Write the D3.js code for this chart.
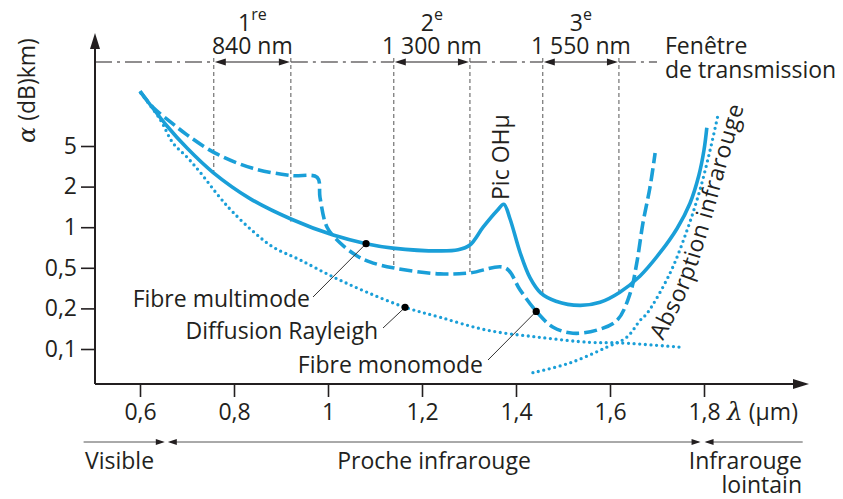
<!DOCTYPE html>
<html><head><meta charset="utf-8">
<script src="https://cdn.jsdelivr.net/npm/d3@7"></script>
<style>
body{margin:0;background:#fff;}
svg{display:block;}
</style></head>
<body><svg id="chart" width="843" height="499"></svg>
<script>
// ---------- DATA ----------
const xTicks = [0.6, 0.8, 1, 1.2, 1.4, 1.6, 1.8];
const yTicks = [0.1, 0.2, 0.5, 1, 2, 5];
// [lambda (µm), alpha (dB/km)]
const multimode = [[0.600,17.2],[0.657,7.9],[0.700,4.77],[0.755,2.76],[0.834,1.63],[0.921,1.15],[1.011,0.874],[1.081,0.755],[1.138,0.70],[1.238,0.667],[1.277,0.68],[1.302,0.738],[1.330,1.0],[1.360,1.33],[1.374,1.48],[1.387,1.16],[1.409,0.644],[1.430,0.398],[1.453,0.282],[1.485,0.235],[1.536,0.214],[1.579,0.2296],[1.621,0.288],[1.664,0.416],[1.706,0.644],[1.743,0.983],[1.770,1.50],[1.789,2.57],[1.800,4.56],[1.806,7.55]];
const monomode = [[0.600,17.2],[0.628,11.9],[0.664,8.67],[0.700,6.43],[0.760,4.26],[0.840,3.02],[0.921,2.57],[0.977,2.46],[0.983,1.66],[0.998,1.0],[1.026,0.763],[1.062,0.612],[1.089,0.553],[1.138,0.50],[1.238,0.436],[1.302,0.446],[1.377,0.50],[1.409,0.302],[1.445,0.187],[1.479,0.145],[1.521,0.131],[1.572,0.138],[1.615,0.163],[1.643,0.282],[1.657,0.544],[1.670,1.07],[1.685,1.97],[1.696,4.26]];
const rayleigh = [[0.602,16.4],[0.643,9.08],[0.670,5.36],[0.700,3.89],[0.728,2.76],[0.770,1.66],[0.798,1.29],[0.840,0.935],[0.883,0.713],[0.940,0.573],[1.011,0.407],[1.083,0.288],[1.164,0.205],[1.238,0.172],[1.338,0.138],[1.451,0.122],[1.557,0.112],[1.621,0.111],[1.753,0.103]];
const irAbsorption = [[1.436,0.0667],[1.515,0.0789],[1.594,0.1035],[1.636,0.1225],[1.664,0.163],[1.679,0.184],[1.728,0.446],[1.764,0.951],[1.791,1.87],[1.813,4.56],[1.830,10.2]];
// baseline of the rotated "Absorption infrarouge" label
const absLabelBaseline = [[1.713,0.1146],[1.770,0.331],[1.809,0.951],[1.845,2.88],[1.887,13.1]];
const windowBounds = [[0.757,0.921],[1.140,1.302],[1.457,1.619]];
const windowLineEnds = [[2.6,1.1],[0.5,0.446],[0.28,0.29]];
const windowOrdinals = [["1","re"],["2","e"],["3","e"]];
const windowLabels = ["840 nm","1 300 nm","1 550 nm"];
const annotations = [
  {text:"Fibre multimode", point:[1.081,0.755]},
  {text:"Diffusion Rayleigh", point:[1.164,0.205]},
  {text:"Fibre monomode", point:[1.443,0.19]}
];
const regionBounds = [0.48, 0.656, 1.797, 2.01];
const regionNames = ["Visible","Proche infrarouge","Infrarouge lointain"];

// ---------- LAYOUT ----------
const ink = '#231f20', blue = '#1a9fd8', grey = '#555';
const fontFam = '"Open Sans","DejaVu Sans",sans-serif';
const FS = 23;
const axisY = 384, axisX = 95;
const svg = d3.select('#chart').attr('font-family', fontFam);

const x = d3.scaleLinear().domain([0.6, 1.8]).range([140, 704]);
const y = d3.scaleLog().domain(yTicks).range(yTicks.map((d, i) => 349 - i * 40.6));
const fmt = d => String(d).replace('.', ',');

function arrow(g, tx, ty, dx, dy, len, hw, fill) {
  const bx = tx - dx * len, by = ty - dy * len, px = -dy, py = dx;
  g.append('path')
    .attr('d', `M${tx},${ty}L${bx + px * hw},${by + py * hw}L${bx - px * hw},${by - py * hw}Z`)
    .attr('fill', fill);
}

// ---------- AXES ----------
const gx = svg.append('g').attr('transform', `translate(0,${axisY})`)
  .call(d3.axisBottom(x).tickValues(xTicks).tickSize(13).tickPadding(7).tickFormat(fmt));
gx.select('.domain').remove();
gx.attr('font-family', fontFam).attr('font-size', FS);
gx.selectAll('line').attr('stroke', ink).attr('stroke-width', 1.6);
gx.selectAll('text').attr('fill', ink);

const gy = svg.append('g').attr('transform', `translate(${axisX},0)`)
  .call(d3.axisLeft(y).tickValues(yTicks).tickSize(14).tickPadding(4).tickFormat(fmt));
gy.select('.domain').remove();
gy.attr('font-family', fontFam).attr('font-size', FS);
gy.selectAll('line').attr('stroke', ink).attr('stroke-width', 1.6);
gy.selectAll('text').attr('fill', ink);

const ga = svg.append('g');
ga.append('line').attr('x1', axisX).attr('y1', axisY).attr('x2', 798).attr('y2', axisY)
  .attr('stroke', ink).attr('stroke-width', 2);
arrow(ga, 809, axisY, 1, 0, 16, 5, ink);
ga.append('line').attr('x1', axisX).attr('y1', axisY).attr('x2', axisX).attr('y2', 46)
  .attr('stroke', ink).attr('stroke-width', 2);
arrow(ga, axisX, 33, 0, -1, 16, 5, ink);

// axis titles
const yl = svg.append('text').attr('transform', 'translate(35,143) rotate(-90)')
  .attr('fill', ink).attr('font-size', FS);
yl.append('tspan').text('α').attr('font-family', '"DejaVu Serif",serif').attr('font-style', 'italic').attr('font-size', 24);
yl.append('tspan').text(' (dB)km)');

const xl = svg.append('text').attr('x', 727).attr('y', 420).attr('fill', ink).attr('font-size', FS);
xl.append('tspan').text('λ').attr('font-family', '"DejaVu Serif",serif').attr('font-style', 'italic').attr('font-size', 25);
xl.append('tspan').text(' (µm)');

// ---------- TRANSMISSION WINDOWS ----------
const gw = svg.append('g');
const topY = 62;
const dashSegs = [[axisX, x(windowBounds[0][0])]];
for (let i = 0; i < windowBounds.length - 1; i++) dashSegs.push([x(windowBounds[i][1]), x(windowBounds[i + 1][0])]);
dashSegs.push([x(windowBounds[windowBounds.length - 1][1]), 657]);
dashSegs.forEach(s => {
  gw.append('line').attr('x1', s[0]).attr('x2', s[1]).attr('y1', topY).attr('y2', topY)
    .attr('stroke', ink).attr('stroke-width', 1.1).attr('stroke-dasharray', '17,5,3,5');
});
windowBounds.forEach((w, i) => {
  const x0 = x(w[0]), x1 = x(w[1]), cx = (x0 + x1) / 2;
  gw.append('line').attr('x1', x0 + 8).attr('x2', x1 - 8).attr('y1', topY).attr('y2', topY)
    .attr('stroke', ink).attr('stroke-width', 1.1);
  arrow(gw, x0 + 1, topY, -1, 0, 11, 3.5, ink);
  arrow(gw, x1 - 1, topY, 1, 0, 11, 3.5, ink);
  w.forEach((b, j) => {
    gw.append('line').attr('x1', x(b)).attr('x2', x(b)).attr('y1', 58).attr('y2', y(windowLineEnds[i][j]))
      .attr('stroke', grey).attr('stroke-width', 1).attr('stroke-dasharray', '4,3');
  });
  const t = gw.append('text').attr('x', cx).attr('y', 31).attr('text-anchor', 'middle')
    .attr('fill', ink).attr('font-size', FS);
  t.append('tspan').text(windowOrdinals[i][0]);
  t.append('tspan').text(windowOrdinals[i][1]).attr('font-size', 16).attr('dy', -11);
  gw.append('text').attr('x', cx).attr('y', 54).attr('text-anchor', 'middle')
    .attr('fill', ink).attr('font-size', FS).text(windowLabels[i]);
});
gw.append('text').attr('x', 665).attr('y', 54).attr('fill', ink).attr('font-size', FS).text('Fenêtre');
gw.append('text').attr('x', 665).attr('y', 78).attr('fill', ink).attr('font-size', FS).text('de transmission');

// ---------- CURVES ----------
const line = d3.line().x(d => x(d[0])).y(d => y(d[1])).curve(d3.curveCatmullRom.alpha(0.5));
const gc = svg.append('g').attr('fill', 'none').attr('stroke', blue);
gc.append('path').datum(rayleigh).attr('d', line).attr('stroke-width', 3.3)
  .attr('stroke-dasharray', '0,5.6').attr('stroke-linecap', 'round');
gc.append('path').datum(irAbsorption).attr('d', line).attr('stroke-width', 3.3)
  .attr('stroke-dasharray', '0,5.6').attr('stroke-linecap', 'round');
gc.append('path').datum(monomode).attr('d', line).attr('stroke-width', 3.6)
  .attr('stroke-dasharray', '13,5');
gc.append('path').datum(multimode).attr('d', line).attr('stroke-width', 3.6);

// Absorption infrarouge label on a curved baseline
svg.append('defs').append('path').attr('id', 'absPath').attr('d', line(absLabelBaseline));
svg.append('text').attr('fill', ink).attr('font-size', FS)
  .append('textPath').attr('href', '#absPath').attr('startOffset', 0)
  .attr('textLength', 248).attr('lengthAdjust', 'spacing')
  .text('Absorption infrarouge');

// Pic OH
svg.append('text').attr('transform', 'translate(509,200) rotate(-90)')
  .attr('fill', ink).attr('font-size', FS).text('Pic OHμ');

// ---------- ANNOTATIONS ----------
const labelPos = [[310, 307, 313, 297], [378, 339, 383, 328], [483, 373, 488, 360]];
const gn = svg.append('g');
annotations.forEach((a, i) => {
  const p = labelPos[i];
  gn.append('line').attr('x1', p[2]).attr('y1', p[3]).attr('x2', x(a.point[0])).attr('y2', y(a.point[1]))
    .attr('stroke', '#333').attr('stroke-width', 1);
  gn.append('circle').attr('cx', x(a.point[0])).attr('cy', y(a.point[1])).attr('r', 3.6).attr('fill', '#000');
  gn.append('text').attr('x', p[0]).attr('y', p[1]).attr('text-anchor', 'end')
    .attr('fill', ink).attr('font-size', FS).text(a.text);
});

// ---------- SPECTRAL REGIONS ----------
const gr = svg.append('g');
const regY = 442;
const xr = b => x(b);
gr.append('line').attr('x1', xr(regionBounds[0])).attr('x2', xr(regionBounds[1]) - 4).attr('y1', regY).attr('y2', regY).attr('stroke', grey).attr('stroke-width', 1);
arrow(gr, xr(regionBounds[1]) - 1.5, regY, 1, 0, 9, 3, ink);
gr.append('line').attr('x1', xr(regionBounds[1]) + 4).attr('x2', xr(regionBounds[2]) - 4).attr('y1', regY).attr('y2', regY).attr('stroke', grey).attr('stroke-width', 1);
arrow(gr, xr(regionBounds[1]) + 1.5, regY, -1, 0, 9, 3, ink);
arrow(gr, xr(regionBounds[2]) - 2, regY, 1, 0, 9, 3, ink);
gr.append('line').attr('x1', xr(regionBounds[2]) + 4).attr('x2', xr(regionBounds[3])).attr('y1', regY).attr('y2', regY).attr('stroke', grey).attr('stroke-width', 1);
arrow(gr, xr(regionBounds[2]) + 2, regY, -1, 0, 9, 3, ink);

gr.append('text').attr('x', 85).attr('y', 469).attr('fill', ink).attr('font-size', FS).text(regionNames[0]);
gr.append('text').attr('x', 434).attr('y', 469).attr('text-anchor', 'middle').attr('fill', ink).attr('font-size', FS).text(regionNames[1]);
const far = regionNames[2].split(' ');
gr.append('text').attr('x', 802).attr('y', 469).attr('text-anchor', 'end').attr('fill', ink).attr('font-size', FS).text(far[0]);
gr.append('text').attr('x', 802).attr('y', 493).attr('text-anchor', 'end').attr('fill', ink).attr('font-size', FS).text(far[1]);
</script>
</body></html>
